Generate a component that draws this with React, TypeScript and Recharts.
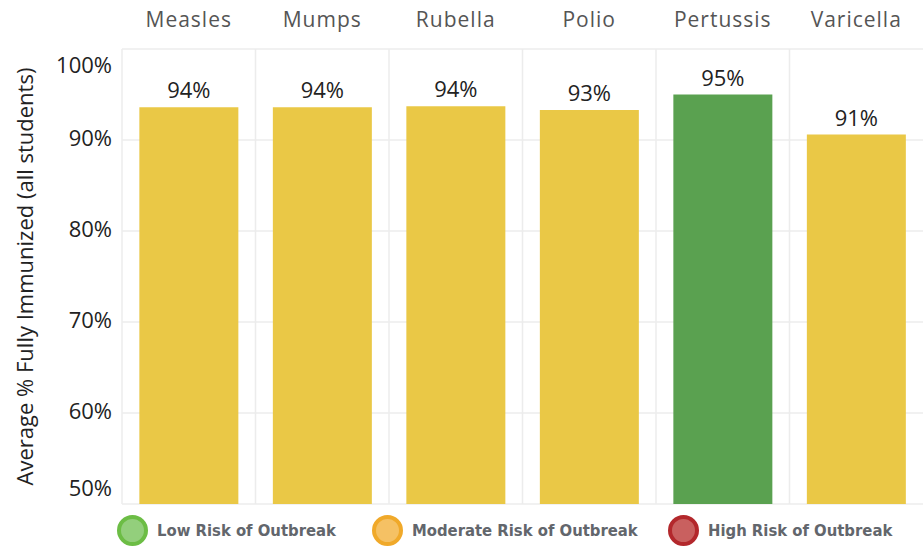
import React from "react";
import {
  BarChart,
  Bar,
  XAxis,
  YAxis,
  CartesianGrid,
  Cell,
  LabelList,
  Legend,
} from "recharts";

const vaccines = ["Measles", "Mumps", "Rubella", "Polio", "Pertussis", "Varicella"];
const immunizedPct = [93.6, 93.6, 93.7, 93.3, 95.0, 90.6];
const riskLevel = ["moderate", "moderate", "moderate", "moderate", "low", "moderate"];
const yTicks = [50, 60, 70, 80, 90, 100];

const legendItems = [
  { key: "low", label: "Low Risk of Outbreak" },
  { key: "moderate", label: "Moderate Risk of Outbreak" },
  { key: "high", label: "High Risk of Outbreak" },
];
const legendLeft = [117, 372, 668];

const barColors: Record<string, string> = {
  low: "#5aa150",
  moderate: "#eac846",
  high: "#b83232",
};

const dotColors: Record<string, [string, string]> = {
  low: ["#6cbd45", "#93cf7c"],
  moderate: ["#f0a92a", "#f5c164"],
  high: ["#b3282c", "#c9605f"],
};

const data = vaccines.map((name, i) => ({
  name,
  value: immunizedPct[i],
  risk: riskLevel[i],
}));

const FONT = "'Open Sans', sans-serif";

function CategoryTick({ x, payload }: { x?: number; payload?: { value: string } }) {
  return (
    <text
      x={x}
      y={21}
      textAnchor="middle"
      dominantBaseline="middle"
      fontSize={21}
      letterSpacing={1}
      fill="#555"
      fontFamily={FONT}
    >
      {payload?.value}
    </text>
  );
}

function PercentTick({ x, y, payload }: { x?: number; y?: number; payload?: { value: number } }) {
  const v = payload?.value ?? 0;
  // end labels sit inside the plot, like the original
  const shift = v === 100 ? 18 : v === 50 ? -14 : 0;
  return (
    <text
      x={(x ?? 0) - 2}
      y={(y ?? 0) + shift}
      textAnchor="end"
      dominantBaseline="middle"
      fontSize={22}
      fill="#222"
      fontFamily={FONT}
    >
      {v}%
    </text>
  );
}

function RiskLegend() {
  return (
    <div
      style={{
        position: "relative",
        height: 45,
        fontFamily: "'DejaVu Sans Condensed', 'DejaVu Sans', sans-serif",
        fontWeight: 700,
        fontSize: 16.5,
        color: "#62666c",
      }}
    >
      {legendItems.map((item, i) => (
        <div
          key={item.key}
          style={{
            position: "absolute",
            left: legendLeft[i],
            top: 11,
            display: "flex",
            alignItems: "center",
            whiteSpace: "nowrap",
          }}
        >
          <span
            style={{
              width: 23,
              height: 23,
              borderRadius: "50%",
              background: dotColors[item.key][1],
              border: `4px solid ${dotColors[item.key][0]}`,
              marginRight: 9,
              display: "inline-block",
            }}
          />
          {item.label}
        </div>
      ))}
    </div>
  );
}

export default function App() {
  return (
    <div style={{ position: "absolute", left: 0, top: 0, background: "#fff" }}>
      <BarChart
        width={923}
        height={549}
        data={data}
        margin={{ top: 0, right: 0, bottom: 0, left: 0 }}
        barCategoryGap="13%"
      >
        <CartesianGrid
          stroke="#ececec"
          strokeWidth={1.5}
          verticalCoordinatesGenerator={({ offset }: any) =>
            vaccines.map((_, i) => offset.left + (offset.width * i) / vaccines.length)
          }
        />
        <XAxis
          dataKey="name"
          orientation="top"
          height={49}
          axisLine={false}
          tickLine={false}
          tick={<CategoryTick />}
          interval={0}
        />
        <YAxis
          type="number"
          domain={[50, 100]}
          ticks={yTicks}
          allowDataOverflow
          width={122}
          axisLine={false}
          tickLine={false}
          tick={<PercentTick />}
          label={{
            value: "Average % Fully Immunized (all students)",
            angle: -90,
            position: "insideLeft",
            offset: 25,
            style: { textAnchor: "middle", fontSize: 22, fill: "#222", fontFamily: FONT },
          }}
        />
        <Legend verticalAlign="bottom" height={45} content={<RiskLegend />} />
        <Bar dataKey="value" isAnimationActive={false}>
          {data.map((d) => (
            <Cell key={d.name} fill={barColors[d.risk]} />
          ))}
          <LabelList
            dataKey="value"
            position="top"
            offset={9}
            formatter={(v: number) => `${Math.round(v)}%`}
            style={{ fontSize: 22, fill: "#222", fontFamily: FONT }}
          />
        </Bar>
      </BarChart>
    </div>
  );
}
